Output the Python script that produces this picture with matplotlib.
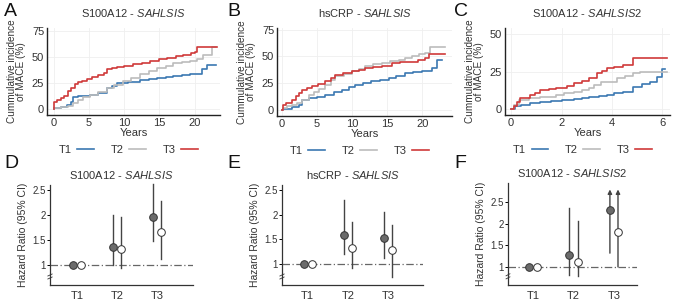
import matplotlib
matplotlib.use("Agg")
import matplotlib.pyplot as plt
import numpy as np

plt.rcParams['font.family'] = ['Liberation Sans', 'DejaVu Sans']
plt.rcParams['mathtext.fontset'] = 'custom'
plt.rcParams['mathtext.rm'] = 'Liberation Sans'
plt.rcParams['mathtext.it'] = 'Liberation Sans:italic'

# ---------------- data ----------------
groups = ["T1", "T2", "T3"]
colors = {"T1": "#3b78b2", "T2": "#bcbcbc", "T3": "#cf3a3a"}

# Panel A: S100A12 - SAHLSIS (years, cumulative incidence %)
A_T1_t = [0, 0.1, 1, 1.9, 2.4, 2.8, 3.5, 4.3, 5.2, 6.3, 7.6, 8.3, 9.0, 10.5, 12.3, 13.5, 14.7, 16, 17, 18.2, 19.4, 20.7, 21.0, 21.8, 23.1]
A_T1_v = [0, 1, 2, 4, 7, 12, 12.5, 13, 13.6, 16, 20, 22.5, 24.7, 26, 28, 29, 29.6, 30.5, 31.6, 32.5, 33.5, 34, 38, 42.7, 42.7]
A_T2_t = [0, 0.1, 1, 2, 2.8, 3.5, 4.2, 5.2, 6.3, 7.6, 8.5, 9.9, 11, 12.3, 13.5, 14.7, 16, 17, 18.2, 19.4, 20.4, 21.2, 22.5, 23.0]
A_T2_v = [0, 1, 2, 3.5, 5.7, 9, 11.5, 13.6, 16.5, 20, 23, 27, 30, 34, 36.5, 39, 41.5, 43.7, 45, 46, 47.5, 51.5, 59.4, 59.4]
A_T3_t = [0, 0.1, 0.5, 1.0, 1.5, 2.0, 2.5, 3.0, 3.5, 4.0, 4.7, 5.5, 6.3, 7.1, 7.6, 8.3, 9.0, 10.0, 11.3, 12.5, 13.7, 15.0, 16.1, 17.3, 18.4, 19.5, 20.1, 20.3, 23.2]
A_T3_v = [0, 7, 9, 10.5, 13, 17, 20.5, 24, 26, 27, 28.5, 30.5, 32.5, 35, 38, 39, 40, 41.5, 43, 44.5, 46, 47.5, 49, 50.5, 52, 54, 55, 59, 59]

# Panel B: hsCRP - SAHLSIS
B_T1_t = [0, 0.1, 1.4, 2.4, 2.8, 3.8, 5, 6.2, 7.4, 8.5, 9.5, 10.4, 11.5, 12.7, 14, 15.2, 16.3, 17.5, 18.7, 19.9, 21.3, 22.0, 22.8]
B_T1_v = [0, 1, 2.5, 4.7, 9.4, 11, 12.5, 14, 16.5, 18.9, 21.5, 23.6, 25, 26.7, 28, 29.9, 32, 34.6, 35.2, 36, 39.3, 46.5, 46.5]
B_T2_t = [0, 0.1, 0.7, 1.4, 2.1, 2.8, 3.8, 4.5, 5.3, 6.2, 7, 7.6, 8.8, 10, 11, 11.8, 13, 14.2, 15.4, 16.6, 17.5, 18.5, 19.5, 20.4, 21.1, 23.2]
B_T2_v = [0, 2, 3.5, 4.7, 7, 9.4, 14, 17, 20, 23.6, 28, 31.4, 34, 36, 38.5, 41, 42.5, 44, 45.5, 47, 49, 50, 52, 53.5, 59, 59]
B_T3_t = [0, 0.1, 0.6, 1.4, 2, 2.4, 2.8, 3.5, 4.3, 5.2, 6.2, 7, 7.6, 8.7, 10, 11, 11.8, 13, 14.2, 15.6, 16.8, 18, 19.4, 20.4, 20.9, 23.2]
B_T3_v = [0, 4.7, 7, 9.4, 13, 16, 18.9, 20.5, 22, 24.5, 27.4, 30, 33, 34.5, 36, 37.5, 39.3, 40, 40.9, 44, 44.5, 45, 47, 48.8, 52.5, 52.5]

# Panel C: S100A12 - SAHLSIS2
C_T1_t = [0, 0.15, 0.4, 0.75, 1.15, 1.6, 2.0, 2.5, 2.8, 3.1, 3.5, 3.8, 4.1, 4.45, 4.85, 5.2, 5.5, 5.8, 6.0, 6.1]
C_T1_v = [0, 2.2, 3, 4, 5, 5.6, 6, 6.6, 7.5, 8.4, 9, 9.5, 10.5, 11.7, 15, 16.5, 18.4, 21.7, 27, 27]
C_T2_t = [0, 0.1, 0.3, 0.7, 1.15, 1.8, 2.1, 2.5, 2.8, 3.1, 3.3, 3.55, 4.2, 4.5, 4.85, 5.1, 6.2]
C_T2_v = [0, 3, 6.2, 7.3, 8.4, 9.5, 10.5, 11.7, 12.8, 14, 16, 18.4, 20.7, 22, 24, 25, 25]
C_T3_t = [0, 0.1, 0.22, 0.35, 0.75, 0.95, 1.15, 1.5, 1.8, 2.2, 2.5, 2.8, 3.1, 3.4, 3.6, 3.8, 4.1, 4.45, 4.85, 6.2]
C_T3_v = [0, 2.5, 5, 7.3, 9.5, 11, 12.9, 13.5, 14, 15.5, 17.3, 19, 20.7, 24, 25.5, 27.3, 28, 29.5, 34, 34]

# Hazard ratios: filled (model 1) and open (model 2): estimate, lower, upper
D_hr1 = [1.0, 1.36, 1.97]; D_lo1 = [1.0, 1.0, 1.48]; D_hi1 = [1.0, 2.0, 2.62]
D_hr2 = [1.0, 1.33, 1.66]; D_lo2 = [1.0, 0.94, 1.13]; D_hi2 = [1.0, 1.97, 2.29]
E_hr1 = [1.0, 1.60, 1.52]; E_lo1 = [1.0, 1.20, 1.13]; E_hi1 = [1.0, 2.30, 2.06]
E_hr2 = [1.0, 1.32, 1.29]; E_lo2 = [1.0, 0.92, 0.75]; E_hi2 = [1.0, 1.86, 1.80]
F_hr1 = [1.0, 1.28, 2.32]; F_lo1 = [1.0, 0.82, 1.32]; F_hi1 = [1.0, 2.37, 2.80]
F_hr2 = [1.0, 1.12, 1.80]; F_lo2 = [1.0, 0.79, 1.00]; F_hi2 = [1.0, 2.06, 2.80]
F_arrow = [False, False, True]

# ---------------- figure ----------------
W, H = 678, 301
fig = plt.figure(figsize=(W / 100, H / 100), dpi=100)

def box(l, r, t, b):
    return [l / W, 1 - b / H, (r - l) / W, (b - t) / H]

def title(name, study):
    return name + r" - $\mathit{" + study + "}$"

km_specs = [
    ("A", 4, box(47, 220, 28, 115), "S100A12", "SAHLSIS",
     [(A_T1_t, A_T1_v), (A_T2_t, A_T2_v), (A_T3_t, A_T3_v)],
     (-0.94, 23.6), [0, 5, 10, 15, 20], (-5.4, 77.5), [0, 25, 50, 75]),
    ("B", 227, box(277, 452, 28, 116), "hsCRP", "SAHLSIS",
     [(B_T1_t, B_T1_v), (B_T2_t, B_T2_v), (B_T3_t, B_T3_v)],
     (-0.7, 24.2), [0, 5, 10, 15, 20], (-5.5, 76.5), [0, 25, 50, 75]),
    ("C", 454, box(505, 670, 28, 115), "S100A12", "SAHLSIS2",
     [(C_T1_t, C_T1_v), (C_T2_t, C_T2_v), (C_T3_t, C_T3_v)],
     (-0.24, 6.3), [0, 2, 4, 6], (-3.8, 54), [0, 25, 50]),
]

tc = "#333333"
for letter, lx, pos, name, study, curves, xl, xt, yl, yt in km_specs:
    ax = fig.add_axes(pos)
    for g, (t, v) in zip(groups, curves):
        ax.step(t, v, where="post", color=colors[g], lw=1.2, label=g)
    ax.set_xlim(*xl)
    ax.set_ylim(*yl)
    ax.set_xticks(xt)
    ax.set_yticks(yt)
    ax.grid(True, color="#efefef", lw=0.6)
    ax.set_axisbelow(True)
    for s in ["top", "right"]:
        ax.spines[s].set_visible(False)
    for s in ["left", "bottom"]:
        ax.spines[s].set_color("#222222")
        ax.spines[s].set_linewidth(1.0)
    ax.tick_params(length=0, labelsize=8, labelcolor=tc, pad=2)
    ax.set_xlabel("Years", fontsize=8, color=tc, labelpad=0)
    ax.set_ylabel("Cummulative incidence\nof MACE (%)", fontsize=7.2, color=tc,
                  linespacing=0.95, labelpad=4)
    ax.set_title(title(name, study), fontsize=8, color=tc, pad=8)
    leg = ax.legend(loc="center", bbox_to_anchor=(0.47, -0.4), ncol=3,
                    frameon=False, fontsize=8, markerfirst=False,
                    handlelength=1.5, columnspacing=1.5, handletextpad=0.5)
    for txt in leg.get_texts():
        txt.set_color(tc)
    fig.text(lx / W, 1 - 12 / H, letter, fontsize=14, va="center",
             ha="left", color="#111111")

hr_specs = [
    ("D", 4, box(50, 193, 185, 285), "S100A12", "SAHLSIS",
     (D_hr1, D_lo1, D_hi1), (D_hr2, D_lo2, D_hi2), [False] * 3,
     (0.33, 3.9), (0.6, 2.6)),
    ("E", 227, box(282, 423, 185, 285), "hsCRP", "SAHLSIS",
     (E_hr1, E_lo1, E_hi1), (E_hr2, E_lo2, E_hi2), [False] * 3,
     (0.36, 3.87), (0.58, 2.6)),
    ("F", 454, box(508, 637, 183, 285), "S100A12", "SAHLSIS2",
     (F_hr1, F_lo1, F_hi1), (F_hr2, F_lo2, F_hi2), F_arrow,
     (0.38, 3.57), (0.58, 2.95)),
]

ec = "#444444"
for letter, lx, pos, name, study, m1, m2, arrows, xl, yl in hr_specs:
    ax = fig.add_axes(pos)
    xs = np.arange(1, len(groups) + 1)
    ax.axhline(1, color="#666666", lw=0.9, ls=(0, (6, 2, 1, 2)), zorder=1)
    for (hr, lo, hi), off, fc in [(m1, -0.1, "#6b6b6b"), (m2, 0.1, "white")]:
        for i, x in enumerate(xs):
            xx = x + off
            if arrows[i]:
                ax.annotate("", xy=(xx, hi[i]), xytext=(xx, lo[i]),
                            arrowprops=dict(arrowstyle="-|>", color=ec, lw=1.0,
                                            mutation_scale=6, shrinkA=0, shrinkB=0),
                            zorder=2)
            else:
                ax.plot([xx, xx], [lo[i], hi[i]], color=ec, lw=1.0, zorder=2,
                        clip_on=False)
            ax.plot(xx, hr[i], "o", ms=5.5, mfc=fc, mec="#333333", mew=0.7, zorder=3)
    ax.set_xlim(*xl)
    ax.set_ylim(*yl)
    ax.set_xticks(xs)
    ax.set_xticklabels(groups)
    ax.set_yticks([1, 1.5, 2, 2.5])
    ax.set_yticklabels(["1", "1.5", "2", "2.5"])
    for s in ["top", "right"]:
        ax.spines[s].set_visible(False)
    for s in ["left", "bottom"]:
        ax.spines[s].set_color("#333333")
        ax.spines[s].set_linewidth(0.9)
    ax.tick_params(axis="y", length=2, width=0.7, labelsize=7, labelcolor=tc, pad=1)
    ax.tick_params(axis="x", length=0, labelsize=8, labelcolor=tc, pad=4)
    ax.set_ylabel("Hazard Ratio (95% CI)", fontsize=7.5, color=tc, labelpad=3)
    ax.set_title(title(name, study), fontsize=8, color=tc, pad=4)
    # axis break mark
    for dy in (0.0, 0.03):
        ax.plot([-0.015, 0.015], [0.06 + dy, 0.08 + dy], transform=ax.transAxes,
                color="#333333", lw=0.6, clip_on=False)
    fig.text(lx / W, 1 - 164 / H, letter, fontsize=14, va="center",
             ha="left", color="#111111")

fig.savefig("out.png", dpi=100)
